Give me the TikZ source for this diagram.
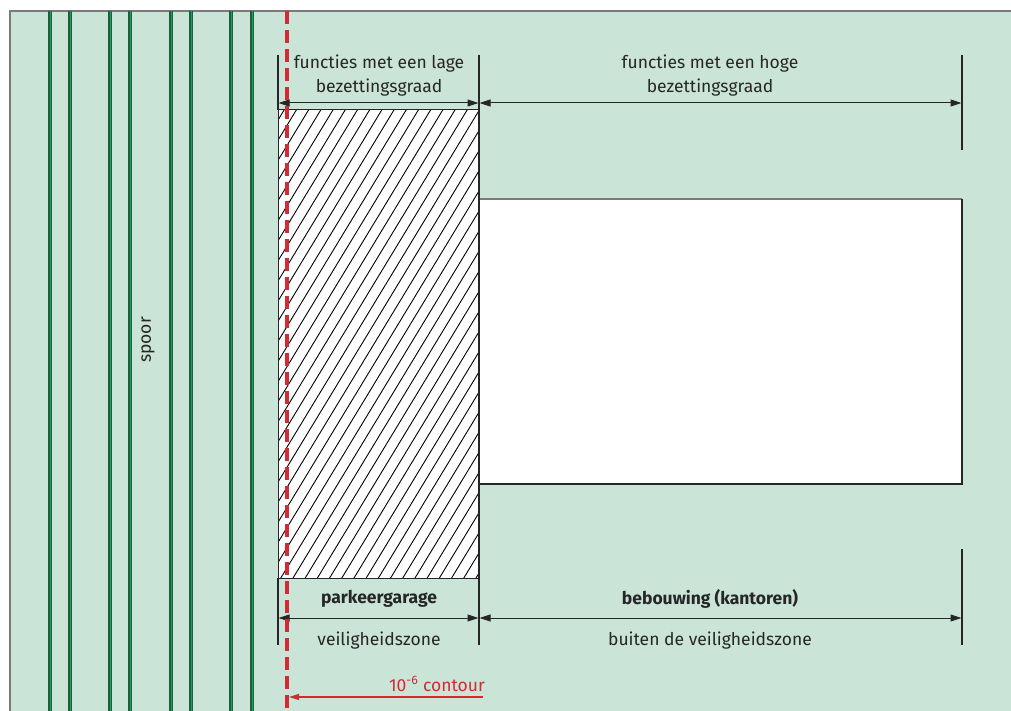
\documentclass[tikz,border=0pt]{standalone}
\usepackage{fontspec}
\setmainfont{Fira Sans}
\usetikzlibrary{arrows.meta}
\definecolor{bgmint}{HTML}{CAE4D7}
\definecolor{framegray}{HTML}{7A7A7A}
\definecolor{trackdark}{HTML}{1D5E3C}
\definecolor{trackbright}{HTML}{16A35E}
\definecolor{contourred}{HTML}{D42A34}
\definecolor{inkgray}{HTML}{262626}
\tikzset{
  lbl/.style={text=inkgray, font=\fontsize{17.5}{24}\selectfont, align=center, inner sep=0pt},
  boldlbl/.style={lbl, font=\fontsize{17.5}{24}\selectfont\bfseries},
  extline/.style={draw=inkgray, line width=1.1pt},
  dimline/.style={draw=inkgray, line width=1pt, {Triangle[length=11pt,width=7pt]}-{Triangle[length=11pt,width=7pt]}},
  track/.style={draw=trackdark, line width=3.2pt},
  trackhi/.style={draw=trackbright, line width=1.2pt},
}
\begin{document}
\begin{tikzpicture}[x=1pt,y=-1pt]
\useasboundingbox (0,0) rectangle (1011,711);
% background field
\fill[bgmint] (10,11) rectangle (1011,711);
\draw[framegray, line width=1.5pt] (10,711) -- (10,11) -- (1011,11);
% railway tracks
\foreach \x in {50,70,110,130,171,191,231,252}{
  \draw[track] (\x,11) -- (\x,711);
  \draw[trackhi] (\x+0.6,11) -- (\x+0.6,711);
}
\node[lbl, rotate=90] (spoor) at (148,340) {spoor};
% parking garage (hatched)
\coordinate (gTL) at (278,110);
\coordinate (gBR) at (479,578);
\fill[white] (gTL) rectangle (gBR);
\begin{scope}
  \clip (gTL) rectangle (gBR);
  \foreach \i in {0,...,60}{
    \draw[black, line width=0.9pt] (278-290+\i*12.2,578) -- ++(290,-478);
  }
\end{scope}
\draw[inkgray, line width=1pt] (gTL) rectangle (gBR);
% office building
\fill[white] (479,199) rectangle (962,484);
\draw[framegray, line width=1.3pt] (479,199) -- (962,199);
\draw[inkgray, line width=1.1pt] (962,199) -- (962,484) -- (479,484);
% extension lines
\coordinate (eL1) at (278,55);  \coordinate (eL2) at (278,110);
\coordinate (eL3) at (278,578); \coordinate (eL4) at (278,645);
\coordinate (eM1) at (479,55);  \coordinate (eM2) at (479,645);
\coordinate (eR1) at (962,55);  \coordinate (eR2) at (962,150);
\coordinate (eR3) at (962,549); \coordinate (eR4) at (962,645);
\draw[extline] (eL1) -- (eL2);
\draw[extline] (eL3) -- (eL4);
\draw[extline] (eM1) -- (eM2);
\draw[extline] (eR1) -- (eR2);
\draw[extline] (eR3) -- (eR4);
% dimension arrows
\coordinate (tL) at (278.5,103); \coordinate (tM) at (479,103); \coordinate (tR) at (961.5,103);
\coordinate (bL) at (278.5,618); \coordinate (bM) at (479,618); \coordinate (bR) at (961.5,618);
\draw[dimline] (tL) -- ([xshift=-0.5pt]tM);
\draw[dimline] ([xshift=0.5pt]tM) -- (tR);
\draw[dimline] (bL) -- ([xshift=-0.5pt]bM);
\draw[dimline] ([xshift=0.5pt]bM) -- (bR);
% labels
\node[lbl] (lowocc) at (379,76) {functies met een lage\\bezettingsgraad};
\node[lbl] (highocc) at (710,76) {functies met een hoge\\bezettingsgraad};
\node[boldlbl] (garage) at (379,599) {parkeergarage};
\node[lbl] (zone) at (379,641) {veiligheidszone};
\node[boldlbl] (offices) at (710,599) {bebouwing (kantoren)};
\node[lbl] (outside) at (710,641) {buiten de veiligheidszone};
% risk contour
\draw[contourred, line width=3.2pt, dash pattern=on 13pt off 6pt] (287,11) -- (287,711);
\coordinate (cEnd) at (289,697);
\node[lbl, text=contourred, anchor=east] (contour) at (485,684) {10\textsuperscript{-6} contour};
\draw[contourred, line width=1.2pt, -{Triangle[length=10pt,width=6pt]}] (483,697) -- (cEnd);
\end{tikzpicture}
\end{document}
